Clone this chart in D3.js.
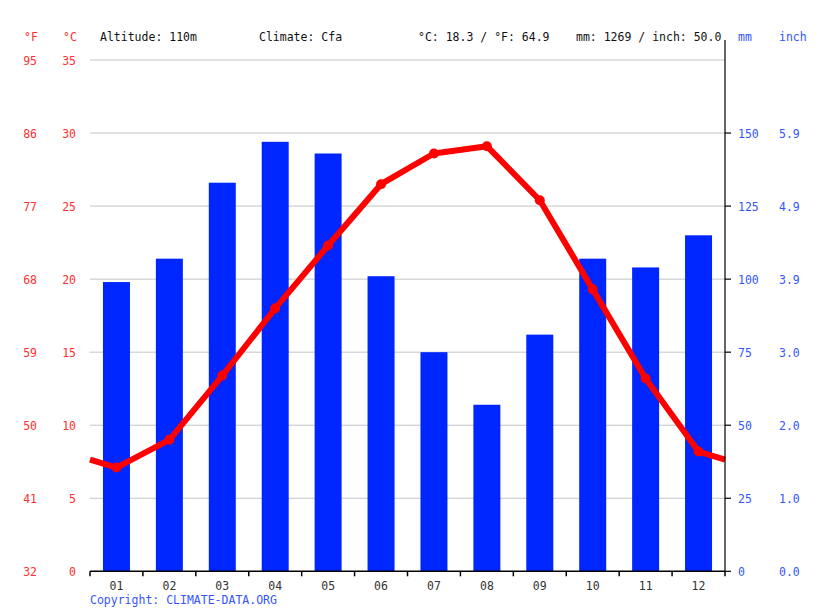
<!DOCTYPE html>
<html>
<head>
<meta charset="utf-8">
<script src="https://cdn.jsdelivr.net/npm/d3@7"></script>
<style>
  body { margin: 0; background: #fff; }
  text { font-family: "DejaVu Sans Mono", monospace; font-size: 11.5px; }
</style>
</head>
<body>
<svg id="chart" width="815" height="611"></svg>
<script>
// data
var months = ["01", "02", "03", "04", "05", "06", "07", "08", "09", "10", "11", "12"];
var tempC = [7.1, 9.0, 13.4, 18.0, 22.3, 26.5, 28.6, 29.1, 25.4, 19.3, 13.2, 8.2];
var precipMm = [99, 107, 133, 147, 143, 101, 75, 57, 81, 107, 104, 115];
var cTicks = [0, 5, 10, 15, 20, 25, 30, 35];
var fLabels = ["32", "41", "50", "59", "68", "77", "86", "95"];
var mmTicks = [0, 25, 50, 75, 100, 125, 150];
var inchLabels = ["0.0", "1.0", "2.0", "3.0", "3.9", "4.9", "5.9"];
var headerTexts = [
  { x: 100, t: "Altitude: 110m" },
  { x: 259, t: "Climate: Cfa" },
  { x: 418, t: "°C: 18.3 / °F: 64.9" },
  { x: 576, t: "mm: 1269 / inch: 50.0" }
];

var red = "#ff0000", redText = "#ff3030", blue = "#0026ff", blueText = "#3355ff";
var plotL = 90, plotR = 725, plotT = 60, plotB = 571.3;

var svg = d3.select("#chart");

var x = d3.scaleBand().domain(months).range([plotL, plotR]).paddingInner(0.49).paddingOuter(0.245);
var xc = function(m) { return x(m) + x.bandwidth() / 2; };
var yC = d3.scaleLinear().domain([0, 35]).range([plotB, plotT]);
var yMm = d3.scaleLinear().domain([0, 175]).range([plotB, plotT]);

// grid
svg.append("g").selectAll("line").data(cTicks.slice(1)).join("line")
  .attr("x1", plotL).attr("x2", plotR)
  .attr("y1", function(d) { return yC(d); }).attr("y2", function(d) { return yC(d); })
  .attr("stroke", "#c4c4c4").attr("stroke-width", 1);

// bars
svg.append("g").selectAll("rect").data(precipMm).join("rect")
  .attr("x", function(d, i) { return x(months[i]); })
  .attr("width", x.bandwidth())
  .attr("y", function(d) { return yMm(d); })
  .attr("height", function(d) { return plotB - yMm(d); })
  .attr("fill", blue);

// temperature line, wrapped to the edges
var step = x.step();
var edge = (tempC[0] + tempC[11]) / 2;
var pts = [[plotL, yC(edge)]];
tempC.forEach(function(d, i) { pts.push([xc(months[i]), yC(d)]); });
pts.push([plotR, yC(edge)]);

svg.append("path")
  .attr("d", d3.line()(pts))
  .attr("fill", "none").attr("stroke", red).attr("stroke-width", 6)
  .attr("stroke-linejoin", "round");

svg.append("g").selectAll("circle").data(tempC).join("circle")
  .attr("cx", function(d, i) { return xc(months[i]); })
  .attr("cy", function(d) { return yC(d); })
  .attr("r", 5).attr("fill", red);

// bottom axis
var xAxis = d3.axisBottom(x).tickSize(0).tickPadding(11);
var gx = svg.append("g").attr("transform", "translate(0," + plotB + ")").call(xAxis);
gx.select(".domain").remove();
gx.selectAll("text").attr("fill", "#333").style("font-size", "11.5px").style("font-family", "DejaVu Sans Mono, monospace");
svg.append("line").attr("x1", plotL).attr("x2", plotR).attr("y1", plotB).attr("y2", plotB)
  .attr("stroke", "#000").attr("stroke-width", 1.5);
var bounds = d3.range(13).map(function(i) { return plotL + i * step; });
svg.append("g").selectAll("line").data(bounds).join("line")
  .attr("x1", function(d) { return d; }).attr("x2", function(d) { return d; })
  .attr("y1", plotB).attr("y2", plotB + 5)
  .attr("stroke", "#000").attr("stroke-width", 1.5);

// right axis
svg.append("line").attr("x1", plotR).attr("x2", plotR).attr("y1", 40).attr("y2", plotB)
  .attr("stroke", "#000").attr("stroke-width", 1.2);
svg.append("g").selectAll("line").data(mmTicks).join("line")
  .attr("x1", plotR).attr("x2", plotR + 6)
  .attr("y1", function(d) { return yMm(d); }).attr("y2", function(d) { return yMm(d); })
  .attr("stroke", "#000").attr("stroke-width", 1.2);

svg.append("g").selectAll("text").data(mmTicks).join("text")
  .attr("x", 738).attr("y", function(d) { return yMm(d) + 4.5; })
  .attr("fill", blueText).text(function(d) { return d; });
svg.append("g").selectAll("text").data(inchLabels).join("text")
  .attr("x", 779).attr("y", function(d, i) { return yMm(mmTicks[i]) + 4.5; })
  .attr("fill", blueText).text(function(d) { return d; });

// left labels
svg.append("g").selectAll("text").data(cTicks).join("text")
  .attr("x", 76).attr("y", function(d) { return yC(d) + 4.5; })
  .attr("text-anchor", "end").attr("fill", redText).text(function(d) { return d; });
svg.append("g").selectAll("text").data(fLabels).join("text")
  .attr("x", 37).attr("y", function(d, i) { return yC(cTicks[i]) + 4.5; })
  .attr("text-anchor", "end").attr("fill", redText).text(function(d) { return d; });

// header
svg.append("text").attr("x", 24).attr("y", 40.5).attr("fill", redText).text("°F");
svg.append("text").attr("x", 63).attr("y", 40.5).attr("fill", redText).text("°C");
svg.append("text").attr("x", 738).attr("y", 40.5).attr("fill", blueText).text("mm");
svg.append("text").attr("x", 779).attr("y", 40.5).attr("fill", blueText).text("inch");
svg.append("g").selectAll("text").data(headerTexts).join("text")
  .attr("x", function(d) { return d.x; }).attr("y", 40.5)
  .attr("fill", "#111").text(function(d) { return d.t; });

svg.append("text").attr("x", 90).attr("y", 604).attr("fill", blueText).text("Copyright: CLIMATE-DATA.ORG");
</script>
</body>
</html>
